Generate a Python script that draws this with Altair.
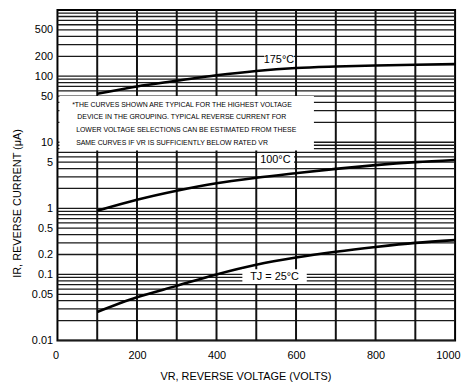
import altair as alt
import pandas as pd

# ---- data ----
voltage = [100, 200, 300, 400, 500, 600, 700, 800, 900, 1000]
i_175 = [54, 70, 85, 103, 120, 133, 140, 145, 149, 152]
i_100 = [0.92, 1.35, 1.85, 2.4, 2.9, 3.4, 3.95, 4.5, 5.0, 5.4]
i_25 = [0.027, 0.045, 0.067, 0.10, 0.14, 0.18, 0.22, 0.26, 0.30, 0.33]

y_ticks = [500, 200, 100, 50, 10, 5, 1, 0.5, 0.2, 0.1, 0.05, 0.01]
x_ticks = [0, 200, 400, 600, 800, 1000]
v_grid = [100, 200, 300, 400, 500, 600, 700, 800, 900]
h_mantissa = [1, 2, 3, 4, 5, 6, 7, 8, 9]
h_decades = [0.01, 0.1, 1, 10, 100]

curve_labels = ["175°C", "100°C", "TJ = 25°C"]
label_x = [557, 548, 546]
label_y = [175, 5.3, 0.092]
label_x1 = [520, 502, 465]
label_x2 = [595, 595, 627]
label_y1 = [219, 6.75, 0.12]
label_y2 = [144, 4.03, 0.0713]

note_lines = [
    "*THE CURVES SHOWN ARE TYPICAL FOR THE HIGHEST VOLTAGE",
    "DEVICE IN THE GROUPING. TYPICAL REVERSE CURRENT FOR",
    "LOWER VOLTAGE SELECTIONS CAN BE ESTIMATED FROM THESE",
    "SAME CURVES IF VR IS SUFFICIENTLY BELOW RATED VR",
]
note_x = [37, 50, 47, 47]
note_y = [36.5, 24.2, 15.4, 9.86]
note_box = {"x1": 5, "x2": 645, "y1": 7.5, "y2": 50}

FONT = "Liberation Sans, Arial, sans-serif"

xs = alt.Scale(domain=[0, 1000], nice=False)
ys = alt.Scale(type="log", domain=[0.01, 1000], nice=False)

curves = pd.DataFrame(
    [{"v": v, "i": i, "s": "175"} for v, i in zip(voltage, i_175)]
    + [{"v": v, "i": i, "s": "100"} for v, i in zip(voltage, i_100)]
    + [{"v": v, "i": i, "s": "25"} for v, i in zip(voltage, i_25)]
)
hgrid = pd.DataFrame({"y": [m * d for d in h_decades for m in h_mantissa]})
vgrid = pd.DataFrame({"x": v_grid})
labels = pd.DataFrame({"t": curve_labels, "x": label_x, "y": label_y,
                       "x1": label_x1, "x2": label_x2, "y1": label_y1, "y2": label_y2})
notes = pd.DataFrame({"t": note_lines, "x": note_x, "y": note_y})
nbox = pd.DataFrame([note_box])

hg = alt.Chart(hgrid).mark_rule(color="#1a1a1a", strokeWidth=1.3).encode(
    y=alt.Y("y:Q", scale=ys))
vg = alt.Chart(vgrid).mark_rule(color="#111", strokeWidth=2).encode(
    x=alt.X("x:Q", scale=xs))

box = alt.Chart(nbox).mark_rect(color="white").encode(
    x=alt.X("x1:Q", scale=xs), x2="x2:Q",
    y=alt.Y("y1:Q", scale=ys), y2="y2:Q")

note_text = alt.Chart(notes).mark_text(
    align="left", baseline="middle", font=FONT, fontSize=7, color="black"
).encode(x=alt.X("x:Q", scale=xs), y=alt.Y("y:Q", scale=ys), text="t:N")

lines = alt.Chart(curves).mark_line(
    color="black", strokeWidth=2.6, interpolate="monotone"
).encode(
    x=alt.X("v:Q", scale=xs,
            axis=alt.Axis(values=x_ticks, format="d", grid=False, ticks=False,
                          domain=False, labelFont=FONT, labelFontSize=11,
                          labelColor="black", labelPadding=9,
                          labelFlush=True, labelFlushOffset=5,
                          title="VR, REVERSE VOLTAGE (VOLTS)",
                          titleFont=FONT, titleFontSize=11, titleFontWeight="normal",
                          titleColor="black", titleX=190, titleY=30)),
    y=alt.Y("i:Q", scale=ys,
            axis=alt.Axis(values=y_ticks, format="~g", grid=False, ticks=False,
                          domain=False, labelFont=FONT, labelFontSize=11,
                          labelColor="black", labelPadding=5,
                          title="IR, REVERSE CURRENT (μA)", titleFont=FONT,
                          titleFontSize=11, titleFontWeight="normal",
                          titleColor="black", titleX=-40, titleY=195,
                          titleBaseline="middle")),
    detail="s:N",
)

lab_box = alt.Chart(labels).mark_rect(color="white").encode(
    x=alt.X("x1:Q", scale=xs), x2="x2:Q",
    y=alt.Y("y1:Q", scale=ys), y2="y2:Q")
lab_text = alt.Chart(labels).mark_text(
    font=FONT, fontSize=11, color="black", baseline="middle"
).encode(x=alt.X("x:Q", scale=xs), y=alt.Y("y:Q", scale=ys), text="t:N")

chart = alt.layer(hg, vg, box, note_text, lines, lab_box, lab_text).properties(
    width=402, height=334,
    autosize=alt.AutoSizeParams(type="none"),
    padding={"left": 50, "top": 0, "right": 8, "bottom": 50},
).configure_view(stroke="black", strokeWidth=2)

chart.save("out.html", embed_options={"renderer": "svg", "actions": False})
